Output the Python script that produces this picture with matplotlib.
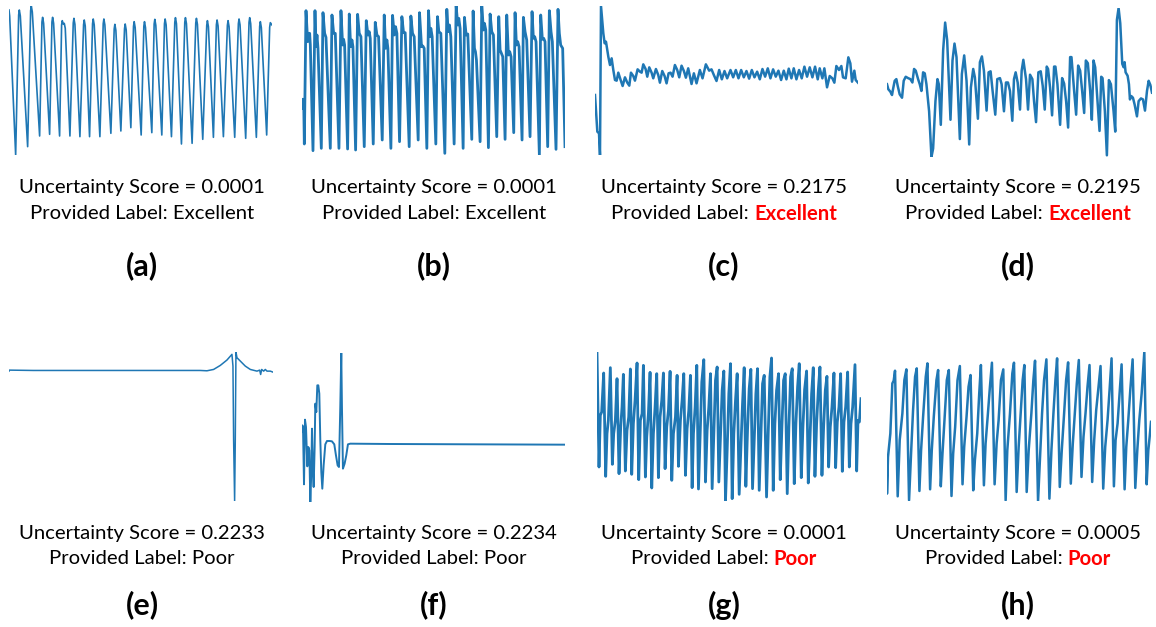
import matplotlib
matplotlib.use("Agg")
import matplotlib.pyplot as plt

# ---------------- data (signal samples) ----------------
t_a = [27,29,47,56,58,61,83,92,94,97,119,126,128,131,149,156,158,161,179,185,187,190,193,196,210,220,222,225,240,251,253,256,269,278,280,283,300,310,312,315,333,343,345,348,363,374,376,379,393,401,403,406,424,432,434,437,456,463,465,468,486,494,496,499,515,525,527,530,545,555,557,560,577,588,590,593,609,621,623,626,641,650,652,655,671,683,685,688,705,716,718,721,738,748,750,753,770,780,782,785,801,810,812,817]
v_a = [470,452,35,455,470,452,60,468,482,464,92,434,448,430,97,434,448,430,92,425,438,428,430,415,92,431,445,427,90,426,440,422,90,429,443,425,90,429,443,425,100,413,427,409,107,414,428,410,117,421,435,417,95,421,435,417,102,428,442,424,95,429,443,425,90,433,447,429,68,433,447,429,70,431,445,427,82,424,438,420,88,426,440,422,90,424,438,420,88,429,443,425,85,433,447,429,88,421,435,417,95,418,432,425]

t_b = [35,35,40,42,47,52,55,58,60,68,74,77,80,83,93,98,103,107,120,125,130,135,146,152,157,160,163,172,177,181,185,188,196,202,207,212,222,228,233,237,240,249,255,260,265,276,282,286,290,293,302,307,312,316,320,328,335,340,345,357,362,367,372,384,388,394,398,402,410,415,419,422,426,437,442,446,452,464,470,474,478,482,492,498,503,506,510,519,523,528,533,545,549,553,556,559,570,575,580,583,587,595,600,605,610,620,626,630,634,638,645,650,655,659,663,671,675,679,683,687,696,700,705,710,720,726,730,734,738,748,752,757,761,765,773,778,783,787,798,804,808,812,818,825]
v_b = [175,202,202,68,468,375,400,400,365,48,468,360,395,355,55,462,400,388,55,455,400,400,55,468,365,382,365,53,458,360,380,360,50,457,400,390,60,438,395,405,385,68,433,395,390,80,455,355,380,355,55,454,395,420,400,75,450,402,402,60,452,400,390,80,462,360,362,355,55,468,390,415,390,68,450,405,400,40,472,405,425,390,68,482,425,445,415,55,448,395,398,82,467,355,345,320,75,482,410,430,410,57,458,405,395,90,450,350,340,330,82,455,335,345,330,102,462,365,375,360,80,448,405,380,90,465,385,390,375,35,455,382,385,375,60,468,405,375,52,472,400,365,355,60]

t_c = [45,52,57,60,63,70,74,78,85,90,95,100,105,110,115,122,128,135,142,148,153,160,165,173,180,185,190,197,202,208,215,220,228,235,240,247,254,260,266,272,278,285,292,298,305,312,318,325,335,342,350,360,368,378,388,395,402,410,418,426,434,442,452,460,468,476,484,492,500,508,516,524,532,540,548,556,564,572,580,588,596,604,612,620,627,635,642,650,658,666,674,682,690,698,706,714,720,728,734,742,750,758,764,770,778,785,790,798,806,812,817,824,828,835]
v_c = [215,105,100,35,482,400,370,375,330,305,325,290,260,258,282,260,242,268,252,243,282,272,258,292,285,282,307,293,270,298,282,265,293,275,252,287,272,250,280,282,270,305,290,268,303,287,267,295,248,280,250,290,265,307,288,292,275,257,290,262,287,265,290,268,290,265,290,268,287,264,290,268,285,262,293,270,295,265,292,270,288,260,288,262,294,265,295,262,290,265,300,270,298,268,300,262,295,265,295,238,272,265,252,302,290,302,268,265,328,310,255,288,260,252]

t_d = [52,56,62,67,70,75,80,84,90,97,102,108,115,122,128,133,138,145,150,155,160,165,170,178,185,190,197,203,207,213,220,226,232,242,248,254,260,270,276,283,290,298,303,310,315,324,330,336,342,350,356,362,368,376,382,390,395,402,408,414,420,427,432,437,443,450,455,460,468,474,480,487,492,498,505,512,518,524,530,534,540,546,552,556,562,570,576,582,588,594,600,604,612,618,624,630,636,642,647,653,660,665,670,675,682,688,693,697,704,710,716,722,730,735,740,745,750,756,760,763,766,772,776,779,783,788,793,800,805,812,818,824,830,835,840,845]
v_d = [250,235,228,218,235,260,265,245,220,210,260,272,268,265,255,295,290,265,250,230,285,282,250,170,35,60,200,265,250,130,350,432,380,145,320,370,330,88,280,335,260,72,240,295,270,148,315,332,290,172,285,288,230,160,265,268,250,170,255,255,230,142,265,285,255,175,290,322,265,175,278,265,200,138,285,288,245,175,302,295,240,158,302,302,250,130,268,252,200,122,330,330,230,160,305,290,230,165,320,312,230,145,320,300,200,112,272,268,170,40,262,250,170,110,440,475,430,310,300,315,285,275,250,205,215,210,190,155,200,208,205,172,230,260,248,225]

t_e = [27,28,100,200,300,400,500,600,620,640,660,680,695,698,700,703,705,707,710,720,735,750,770,778,781,784,790,795,800,810,818]
v_e = [405,408,407,407,407,407,407,407,406,410,422,438,455,420,200,18,200,462,445,435,420,410,405,408,395,410,405,410,405,405,402]

t_f = [35,36,38,41,44,47,51,54,57,60,63,65,68,70,73,75,78,81,84,87,90,93,96,100,105,110,118,125,132,137,142,146,150,153,155,158,163,168,173,180,300,825]
v_f = [225,245,240,68,262,240,122,180,170,15,105,235,105,60,180,310,285,365,365,340,200,105,55,125,188,198,198,197,188,155,125,120,300,462,300,115,130,155,188,190,189,187]

t_g = [52,53,58,62,66,72,78,82,86,92,98,102,107,112,118,123,127,131,137,142,147,152,156,161,166,172,177,182,187,191,197,201,206,211,216,221,226,231,236,241,246,251,256,261,266,271,276,281,287,292,296,302,307,312,317,322,327,332,337,341,346,351,356,361,366,372,377,382,387,392,397,402,407,412,417,422,427,432,437,442,447,452,457,462,467,472,478,483,488,493,498,503,508,513,518,523,528,533,538,543,548,553,560,565,570,575,580,585,590,596,601,606,611,616,622,627,632,637,643,648,653,658,664,669,674,680,685,690,695,700,705,710,715,720,726,731,736,741,746,751,756,762,767,772,777,782,787,792,797,803,808,813,818,825,830,834,838,843]
v_g = [465,405,120,275,285,402,92,220,260,418,128,220,260,385,100,240,300,398,108,230,270,414,98,250,320,432,82,260,280,425,90,210,280,404,57,220,300,400,88,270,320,402,115,240,290,407,80,220,270,395,122,260,320,400,95,235,290,395,58,220,300,425,54,220,375,442,75,230,300,400,55,220,380,420,75,210,350,408,18,170,340,430,25,220,320,400,38,170,310,418,62,230,355,413,55,200,340,415,50,210,370,395,30,220,390,447,50,250,350,400,82,240,380,400,40,240,390,415,70,250,360,430,88,240,352,408,72,200,340,418,92,250,350,420,95,240,350,392,120,240,300,402,118,255,300,400,107,255,300,405,120,250,300,427,108,260,255,325]

t_h = [52,52,55,62,68,72,76,84,90,98,104,110,118,124,130,136,141,149,154,160,168,173,181,186,192,200,205,213,218,224,231,237,245,250,256,263,270,278,283,290,296,302,310,315,322,328,333,342,347,354,360,366,374,380,386,393,400,407,412,420,427,432,440,446,452,458,463,470,476,484,490,495,504,510,516,522,529,538,544,550,556,561,569,575,582,588,594,602,608,614,620,626,634,640,646,652,658,666,672,678,684,691,699,705,712,718,724,731,736,742,748,754,763,768,774,780,787,795,801,807,814,822,829,834,838,842]
v_h = [125,40,150,220,370,378,408,32,200,280,380,412,20,160,290,390,415,48,170,270,390,430,53,170,270,380,410,62,160,260,380,410,33,160,240,380,422,68,180,270,360,395,50,140,220,340,425,65,190,280,360,432,68,190,260,380,412,20,170,280,400,432,45,180,280,380,425,45,170,280,380,438,18,150,280,380,442,25,170,280,380,445,60,170,280,380,433,70,190,280,370,440,90,210,280,360,425,75,200,290,350,422,55,180,260,350,445,62,200,250,340,427,53,180,260,350,442,57,170,260,340,464,68,170,210,255]

scores = ["0.0001", "0.0001", "0.2175", "0.2195", "0.2233", "0.2234", "0.0001", "0.0005"]
labels = ["Excellent", "Excellent", "Excellent", "Excellent", "Poor", "Poor", "Poor", "Poor"]
flagged = [False, False, True, True, False, False, True, True]
letters = ["(a)", "(b)", "(c)", "(d)", "(e)", "(f)", "(g)", "(h)"]

series = [(t_a, v_a), (t_b, v_b), (t_c, v_c), (t_d, v_d),
          (t_e, v_e), (t_f, v_f), (t_g, v_g), (t_h, v_h)]

# ---------------- layout ----------------
W, H = 1156, 627
fig = plt.figure(figsize=(W / 100, H / 100), dpi=100)
FONT = ["Lato", "DejaVu Sans"]

# axes boxes in pixels: left, top, right, bottom
boxes = [(9, 6, 272, 155), (302, 6, 565, 155), (595, 6, 858, 155), (887, 8, 1152, 157),
         (9, 352, 273, 501), (302, 353, 565, 502), (597, 352, 861, 501), (887, 352, 1151, 501)]
lws = [1.2, 2.0, 1.8, 1.8, 1.1, 1.4, 2.0, 1.8]
centers = [142, 434, 724, 1018, 142, 434, 724, 1018]
row_y = [(187, 214, 266), (187, 214, 266), (187, 214, 266), (187, 214, 266),
         (534, 559, 605), (534, 559, 605), (534, 559, 605), (534, 559, 605)]

color = "#1f77b4"
for i, (t, v) in enumerate(series):
    l, tp, r, b = boxes[i]
    ax = fig.add_axes([l / W, 1 - b / H, (r - l) / W, (b - tp) / H])
    ax.plot(t, v, color=color, lw=lws[i], solid_joinstyle="round")
    ax.set_xlim(min(t), max(t))
    ax.set_ylim(min(v), max(v))
    ax.axis("off")

fs = 14.6
fig.canvas.draw()
renderer = fig.canvas.get_renderer()
for i in range(8):
    cx = centers[i] / W
    y1, y2, y3 = [1 - y / H for y in row_y[i]]
    fig.text(cx, y1, "Uncertainty Score = " + scores[i], ha="center", va="center",
             fontsize=fs, family=FONT, color="black")
    if flagged[i]:
        p1 = fig.text(0, y2, "Provided Label:", ha="left", va="center", fontsize=fs,
                      family=FONT, color="black")
        p2 = fig.text(0, y2, labels[i], ha="left", va="center", fontsize=fs,
                      family=FONT, color="#ff0000", fontweight="bold")
        w1 = p1.get_window_extent(renderer).width
        w2 = p2.get_window_extent(renderer).width
        gap = 5
        total = w1 + gap + w2
        x0 = centers[i] - total / 2
        p1.set_x(x0 / W)
        p2.set_x((x0 + w1 + gap) / W)
    else:
        fig.text(cx, y2, "Provided Label: " + labels[i], ha="center", va="center",
                 fontsize=fs, family=FONT, color="black")
    fig.text(cx, y3, letters[i], ha="center", va="center", fontsize=22,
             family=FONT, fontweight="bold", color="black")

fig.savefig("out.png", dpi=100)
